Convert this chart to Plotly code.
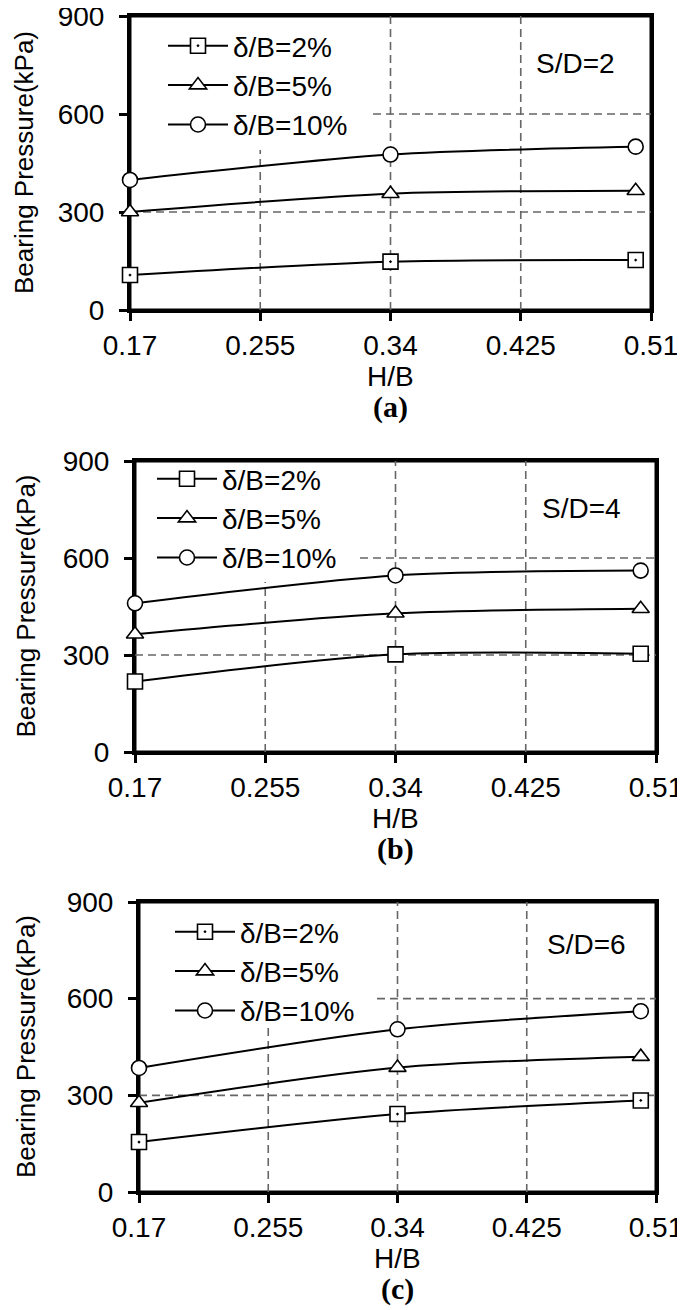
import plotly.graph_objects as go

# ---------------- data ----------------
hb = [0.17, 0.34, 0.5]
series_names = ["δ/B=2%", "δ/B=5%", "δ/B=10%"]

# panel (a) S/D=2
a_2 = [107, 148, 153]
a_5 = [300, 356, 365]
a_10 = [398, 476, 500]
# panel (b) S/D=4
b_2 = [218, 302, 304]
b_5 = [364, 429, 443]
b_10 = [460, 546, 561]
# panel (c) S/D=6
c_2 = [155, 242, 284]
c_5 = [277, 386, 420]
c_10 = [385, 505, 561]

x_ticks = [0.17, 0.255, 0.34, 0.425, 0.51]
x_ticktext = ["0.17", "0.255", "0.34", "0.425", "0.51"]
y_ticks = [0, 300, 600, 900]
y_ticktext = ["0", "300", "600", "900"]
panel_labels = ["(a)", "(b)", "(c)"]
sd_labels = ["S/D=2", "S/D=4", "S/D=6"]

# ---------------- layout geometry (screen pixels) ----------------
SCREEN_W, SCREEN_H = 685, 1310
OFF = 8  # page body margin
W, H = SCREEN_W - OFF, SCREEN_H - OFF
panels = [
    dict(x0=130, x1=651, y0=16, y1=310, leg=(163, 21), sd=(575, 64), yt=24,
         box=(373, 150), data=[a_2, a_5, a_10], sq="square-dot"),
    dict(x0=135, x1=656, y0=461, y1=752, leg=(152, 454), sd=(581, 508), yt=25,
         box=(360, 582), data=[b_2, b_5, b_10], sq="square"),
    dict(x0=139, x1=656, y0=902, y1=1192, leg=(170, 907), sd=(586, 944), yt=26,
         box=(377, 1027), data=[c_2, c_5, c_10], sq="square-dot"),
]

def fx(p):
    return (p - OFF) / W

def fy(p):
    return 1 - (p - OFF) / H

FONT = "Liberation Sans, Arial, sans-serif"
GRID = dict(color="#666666", width=1.6, dash="8px,5px")
fig = go.Figure()
layout = dict(
    template="none",
    width=W, height=H,
    margin=dict(l=0, r=0, t=0, b=0, autoexpand=False),
    paper_bgcolor="white", plot_bgcolor="white",
    font=dict(family=FONT, size=28, color="black"),
    showlegend=True,
)
annotations = []
shapes = []

for i, p in enumerate(panels):
    n = "" if i == 0 else str(i + 1)
    xa, ya = "x" + n, "y" + n
    legname = "legend" + n
    symbols = [p["sq"], "triangle-up", "circle"]
    for s, (vals, name) in enumerate(zip(p["data"], series_names)):
        fig.add_trace(go.Scatter(
            x=hb, y=vals, name=name, xaxis=xa, yaxis=ya, legend=legname,
            mode="lines+markers", cliponaxis=False,
            line=dict(color="black", width=2, shape="spline", smoothing=0.8),
            marker=dict(symbol=symbols[s], size=15, color="white",
                        line=dict(color="black", width=1.6)),
        ))
    axis_common = dict(
        showline=True, linecolor="black", linewidth=3, mirror=True,
        ticks="outside", ticklen=8, tickwidth=3, tickcolor="black",
        showgrid=False, zeroline=False, layer="below traces", automargin=False,
        ticklabeloverflow="allow",
        tickfont=dict(family=FONT, size=28, color="black"),
    )
    layout["xaxis" + n] = dict(
        axis_common, domain=[fx(p["x0"]), fx(p["x1"])], range=[0.17, 0.51],
        tickvals=x_ticks, ticktext=x_ticktext, anchor=ya, ticklabelstandoff=0,
    )
    layout["yaxis" + n] = dict(
        axis_common, domain=[fy(p["y1"]), fy(p["y0"])], range=[0, 900],
        tickvals=y_ticks, ticktext=y_ticktext, anchor=xa, ticklabelstandoff=9,
    )
    layout[legname] = dict(
        x=fx(p["leg"][0]), y=fy(p["leg"][1]), xanchor="left", yanchor="top",
        xref="paper", yref="paper",
        bgcolor="rgba(0,0,0,0)", borderwidth=0, itemwidth=60,
        font=dict(family=FONT, size=28, color="black"),
        tracegroupgap=0,
    )
    # plot frame (drawn under the markers)
    shapes.append(dict(type="rect", xref=xa + " domain", yref=ya + " domain",
                       x0=0, x1=1, y0=0, y1=1, layer="below",
                       line=dict(color="black", width=3)))
    # dashed grid; the part hidden by the legend area is left out
    x_box = x_ticks[0] + (p["box"][0] - p["x0"]) / (p["x1"] - p["x0"]) * (x_ticks[-1] - x_ticks[0])
    y_box = (p["y1"] - p["box"][1]) / (p["y1"] - p["y0"]) * y_ticks[-1]
    for xv in x_ticks[1:-1]:
        top = y_box if xv < x_box else y_ticks[-1]
        shapes.append(dict(type="line", xref=xa, yref=ya, x0=xv, x1=xv,
                           y0=y_ticks[0], y1=top, line=GRID, layer="below"))
    for yv in y_ticks[1:-1]:
        left = x_box if yv > y_box else x_ticks[0]
        shapes.append(dict(type="line", xref=xa, yref=ya, x0=left, x1=x_ticks[-1],
                           y0=yv, y1=yv, line=GRID, layer="below"))
    cx = (p["x0"] + p["x1"]) / 2
    annotations.append(dict(text="H/B", x=fx(cx), y=fy(p["y1"] + 66),
                            xref="paper", yref="paper", showarrow=False,
                            xanchor="center", yanchor="middle",
                            font=dict(family=FONT, size=28)))
    annotations.append(dict(text="<b>" + panel_labels[i] + "</b>", x=fx(cx),
                            y=fy(p["y1"] + 97), xref="paper", yref="paper",
                            showarrow=False, xanchor="center", yanchor="middle",
                            font=dict(family="Liberation Serif, Times New Roman, serif", size=30)))
    annotations.append(dict(text=sd_labels[i], x=fx(p["sd"][0]), y=fy(p["sd"][1]),
                            xref="paper", yref="paper", showarrow=False,
                            xanchor="center", yanchor="middle",
                            font=dict(family=FONT, size=28)))
    annotations.append(dict(text="Bearing Pressure(kPa)", x=fx(p["yt"]),
                            y=fy((p["y0"] + p["y1"]) / 2), textangle=-90,
                            xref="paper", yref="paper", showarrow=False,
                            xanchor="center", yanchor="middle",
                            font=dict(family=FONT, size=26)))

layout["annotations"] = annotations
layout["shapes"] = shapes
fig.update_layout(**layout)
fig.write_html("out.html")
